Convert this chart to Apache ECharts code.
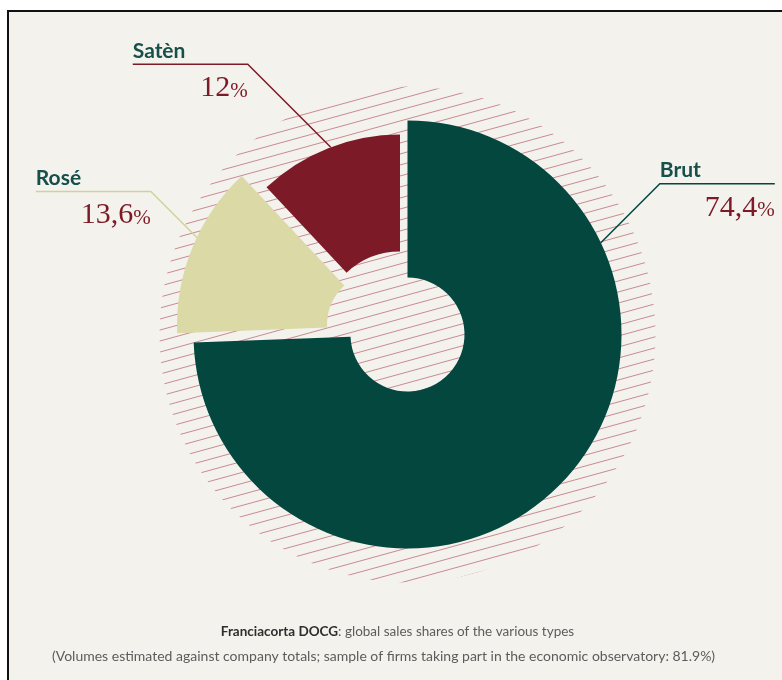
<!DOCTYPE html>
<html>
<head>
<meta charset="utf-8">
<script src="https://cdn.jsdelivr.net/npm/echarts@6/dist/echarts.min.js"></script>
<style>
  html, body { margin: 0; padding: 0; background: #ffffff; width: 782px; height: 680px; overflow: hidden; }
  #frame { position: absolute; left: 7px; top: 10px; width: 820px; height: 720px;
           border: 2px solid #111111; background: #f3f2ec; }
  #chart { position: absolute; left: 0; top: 0; width: 782px; height: 680px; }
</style>
</head>
<body>
<div id="frame"></div>
<div id="chart"></div>
<script>
// Franciacorta DOCG – sales shares by type (clockwise from 12 o'clock)
const categories = ['Brut', 'Rosé', 'Satèn'];
const shares = [74.4, 13.6, 12];

const captionTitle = 'Franciacorta DOCG';
const captionText = ': global sales shares of the various types';
const captionNote = '(Volumes estimated against company totals; sample of firms taking part in the economic observatory: 81.9%)';

// styling / geometry
const sliceColors = ['#03473f', '#dbd9a6', '#7c1a27'];
const lineColors = ['#03473f', '#d3d19b', '#7c1a27'];
const BASE = [407.5, 334.5];
const sliceShift = [[0, 0], [-25.5, -9], [-7.5, -5]];   // pulled-out slices
const radii = [[57, 214], [55, 205], [78, 195]];
const calloutAngle = [64.6, 295.4, 339.2];
const calloutRise = [59, 46, 83];
const calloutSide = ['right', 'left', 'left'];
const ARM = 115;
const NAME_ROW = 26;
const HATCH_R = 248;

const centers = sliceShift.map(d => [BASE[0] + d[0], BASE[1] + d[1]]);

function fmt(v) { return String(v).replace('.', ','); }

function hatchTile() {
  const w = 40, h = 11;
  const c = document.createElement('canvas');
  c.width = w; c.height = h;
  const g = c.getContext('2d');
  g.strokeStyle = '#c98a94';
  g.lineWidth = 1;
  [-h, 0, h].forEach(off => {
    g.beginPath(); g.moveTo(0, h + off); g.lineTo(w, off); g.stroke();
  });
  return c;
}

function calloutLayout(k) {
  const ang = calloutAngle[k] * Math.PI / 180;
  const r = radii[k][1];
  const ax = centers[k][0] + r * Math.sin(ang);
  const ay = centers[k][1] - r * Math.cos(ang);
  const dir = calloutSide[k] === 'right' ? 1 : -1;
  const ex = ax + dir * calloutRise[k];
  const ey = ay - calloutRise[k];
  const fx = ex + dir * ARM;
  return {
    x: Math.min(ex, fx), y: ey - NAME_ROW,
    align: 'left', verticalAlign: 'top',
    labelLinePoints: [[ax, ay], [ex, ey], [fx, ey]]
  };
}

const richStyles = {
  name: { fontFamily: 'Lato', fontWeight: 'bold', fontSize: 21, color: '#17504a', lineHeight: NAME_ROW, align: 'left' },
  num: { fontFamily: 'Liberation Serif', fontSize: 30, color: '#7c1a27', lineHeight: 48, align: 'right' },
  pct: { fontFamily: 'Liberation Serif', fontSize: 21, color: '#7c1a27', lineHeight: 48, padding: [6, 0, 0, 0], align: 'right' }
};

function sliceSeries(k) {
  return {
    type: 'pie',
    z: 3,
    center: centers[k],
    radius: radii[k],
    startAngle: 90,
    clockwise: true,
    silent: true,
    avoidLabelOverlap: false,
    animation: false,
    emphasis: { disabled: true },
    data: categories.map((name, i) => ({
      name: name,
      value: shares[i],
      itemStyle: { color: i === k ? sliceColors[i] : 'rgba(0,0,0,0)', borderWidth: 0 },
      label: { show: i === k },
      labelLine: { show: i === k }
    })),
    label: {
      position: 'outer',
      overflow: 'none',
      width: ARM,
      formatter: p => '{name|' + p.name + '}\n{num|' + fmt(p.value) + '}{pct|%}',
      rich: richStyles
    },
    labelLine: { smooth: false, lineStyle: { color: lineColors[k], width: 1.5 } },
    labelLayout: () => calloutLayout(k)
  };
}

const chart = echarts.init(document.getElementById('chart'), null, { renderer: 'canvas' });
chart.setOption({
  backgroundColor: 'transparent',
  animation: false,
  series: [
    {
      type: 'pie',
      z: 1,
      center: BASE,
      radius: [0, HATCH_R],
      silent: true,
      animation: false,
      label: { show: false },
      labelLine: { show: false },
      emphasis: { disabled: true },
      data: [{ value: 1, itemStyle: { color: { image: hatchTile(), repeat: 'repeat' }, borderWidth: 0 } }]
    },
    sliceSeries(0),
    sliceSeries(1),
    sliceSeries(2)
  ],
  graphic: [
    {
      type: 'text', x: 397.5, y: 632, silent: true,
      style: {
        text: '{b|' + captionTitle + '}{r|' + captionText + '}',
        align: 'center', verticalAlign: 'middle',
        rich: {
          b: { fontFamily: 'Lato', fontWeight: 'bold', fontSize: 13.5, fill: '#2e2e2e' },
          r: { fontFamily: 'Lato', fontSize: 13.5, fill: '#5c5c5c' }
        }
      }
    },
    {
      type: 'text', x: 383.5, y: 656, silent: true,
      style: {
        text: captionNote, align: 'center', verticalAlign: 'middle',
        fontFamily: 'Lato', fontSize: 14, fill: '#5c5c5c'
      }
    }
  ]
});
</script>
</body>
</html>
